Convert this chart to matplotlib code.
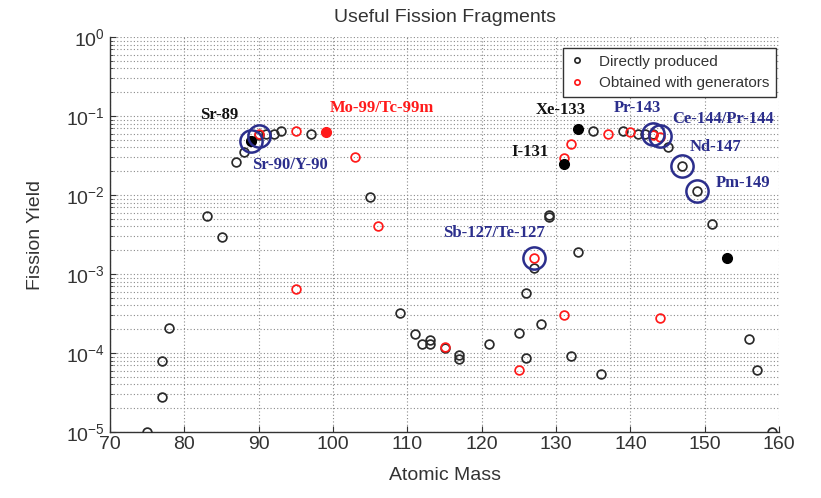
import matplotlib
matplotlib.use("Agg")
import matplotlib.pyplot as plt

plt.rcParams['font.family'] = ['Liberation Sans', 'DejaVu Sans']
plt.rcParams['mathtext.fontset'] = 'custom'
plt.rcParams['mathtext.rm'] = 'Liberation Sans'
plt.rcParams['mathtext.it'] = 'Liberation Sans'

# directly produced (open black circles)
direct_mass = [75, 77, 77, 78, 83, 85, 87, 88, 89, 90, 91, 92, 93, 97, 105,
               109, 111, 112, 113, 113, 115, 117, 117, 121, 125, 126, 126,
               127, 128, 129, 129, 132, 133, 135, 136, 139, 141, 142, 143,
               145, 147, 149, 151, 156, 157, 159]
direct_yield = [1.0e-5, 2.8e-5, 7.9e-5, 2.1e-4, 5.4e-3, 2.9e-3, 2.6e-2, 3.5e-2,
                4.8e-2, 5.8e-2, 5.9e-2, 6.0e-2, 6.4e-2, 6.0e-2, 9.5e-3,
                3.2e-4, 1.75e-4, 1.3e-4, 1.45e-4, 1.3e-4, 1.15e-4, 9.4e-5,
                8.3e-5, 1.3e-4, 1.8e-4, 8.7e-5, 5.8e-4,
                1.2e-3, 2.3e-4, 5.2e-3, 5.6e-3, 9.1e-5, 1.9e-3, 6.5e-2,
                5.5e-5, 6.5e-2, 5.9e-2, 5.9e-2, 6.0e-2,
                4.1e-2, 2.35e-2, 1.12e-2, 4.3e-3, 1.5e-4, 6.1e-5, 1.0e-5]

# obtained with generators (open red circles)
gen_mass = [90, 95, 95, 103, 106, 115, 125, 127, 131, 131, 132, 137, 140,
            143, 144, 144]
gen_yield = [6.0e-2, 6.5e-2, 6.5e-4, 3.05e-2, 4.0e-3, 1.2e-4, 6.1e-5, 1.58e-3,
             2.9e-2, 3.0e-4, 4.4e-2, 5.9e-2, 6.3e-2, 5.8e-2, 5.5e-2, 2.75e-4]

# highlighted (filled) isotopes
filled_black_mass = [89, 131, 133, 153]
filled_black_yield = [4.8e-2, 2.5e-2, 6.8e-2, 1.6e-3]
filled_red_mass = [99]
filled_red_yield = [6.2e-2]

# big blue rings
ring_mass = [89, 90, 127, 143, 144, 147, 149]
ring_yield = [4.8e-2, 5.6e-2, 1.58e-3, 6.0e-2, 5.6e-2, 2.35e-2, 1.12e-2]

# text labels: text, x, y, colour
BLUE = '#2b2e8c'
RED = '#ff1a1a'
labels = ['Sr-89', 'Mo-99/Tc-99m', 'Sr-90/Y-90', 'Xe-133', 'I-131', 'Pr-143',
          'Ce-144/Pr-144', 'Nd-147', 'Pm-149', 'Sb-127/Te-127']
label_x = [82.1, 99.6, 89.1, 127.2, 124.0, 137.7, 145.6, 148.0, 151.5, 114.8]
label_y = [0.103, 0.126, 0.024, 0.119, 0.0353, 0.126, 0.0908, 0.0409, 0.0143, 3.3e-3]
label_col = ['#111111', RED, BLUE, '#111111', '#111111', BLUE, BLUE, BLUE, BLUE, BLUE]

fig = plt.figure(figsize=(8.21, 4.98), dpi=100)
ax = fig.add_axes([0.134, 0.1325, 0.815, 0.7932])

ax.plot(direct_mass, direct_yield, 'o', mfc='none', mec='#2a2a2a', ms=6.3, mew=1.25,
        label='Directly produced', zorder=3)
ax.plot(gen_mass, gen_yield, 'o', mfc='none', mec=RED, ms=6.3, mew=1.25,
        label='Obtained with generators', zorder=4)
ax.plot(filled_black_mass, filled_black_yield, 'o', color='black', ms=7, zorder=5)
ax.plot(filled_red_mass, filled_red_yield, 'o', color=RED, ms=7, zorder=5)
ax.plot(ring_mass, ring_yield, 'o', mfc='none', mec=BLUE, ms=16, mew=1.8, zorder=6)

for t, x, y, c in zip(labels, label_x, label_y, label_col):
    ax.text(x, y, t, color=c, fontsize=12, fontweight='bold', ha='left', va='center',
            family=['Liberation Serif', 'DejaVu Serif'], zorder=7)

ax.set_yscale('log')
ax.set_xlim(70, 160)
ax.set_ylim(1e-5, 1)
ax.set_xticks(range(70, 161, 10))

ax.grid(True, which='major', linestyle=(0, (1, 2)), color='#8a8a8a', lw=0.8)
ax.grid(True, which='minor', axis='y', linestyle=(0, (1, 2)), color='#8a8a8a', lw=0.8)
ax.set_axisbelow(True)

for s in ['top', 'right']:
    ax.spines[s].set_visible(False)
for s in ['left', 'bottom']:
    ax.spines[s].set_color('#333333')
    ax.spines[s].set_linewidth(1.0)

ax.tick_params(which='both', direction='in', labelsize=14, colors='#333333',
               labelcolor='#333333')
ax.tick_params(which='major', length=4)
ax.tick_params(which='minor', length=2)
ax.tick_params(axis='x', pad=3)

ax.set_title('Useful Fission Fragments', fontsize=14, color='#333333', pad=11)
ax.set_xlabel('Atomic Mass', fontsize=14, color='#333333', labelpad=10)
ax.set_ylabel('Fission Yield', fontsize=14, color='#333333', labelpad=16)
fig.text(-0.012, 0.59, 'Cumulative', rotation=90, fontsize=14, color='#333333',
         ha='center', va='center')

leg = ax.legend(loc='upper right', bbox_to_anchor=(0.9955, 0.973), borderaxespad=0,
                fontsize=11, markerscale=0.6, handlelength=1.0, handletextpad=0.9,
                fancybox=False, framealpha=1, edgecolor='#333333',
                borderpad=0.45, labelspacing=0.5)
leg.get_frame().set_linewidth(1.0)
for txt in leg.get_texts():
    txt.set_color('#333333')

fig.savefig('out.png', dpi=100)
